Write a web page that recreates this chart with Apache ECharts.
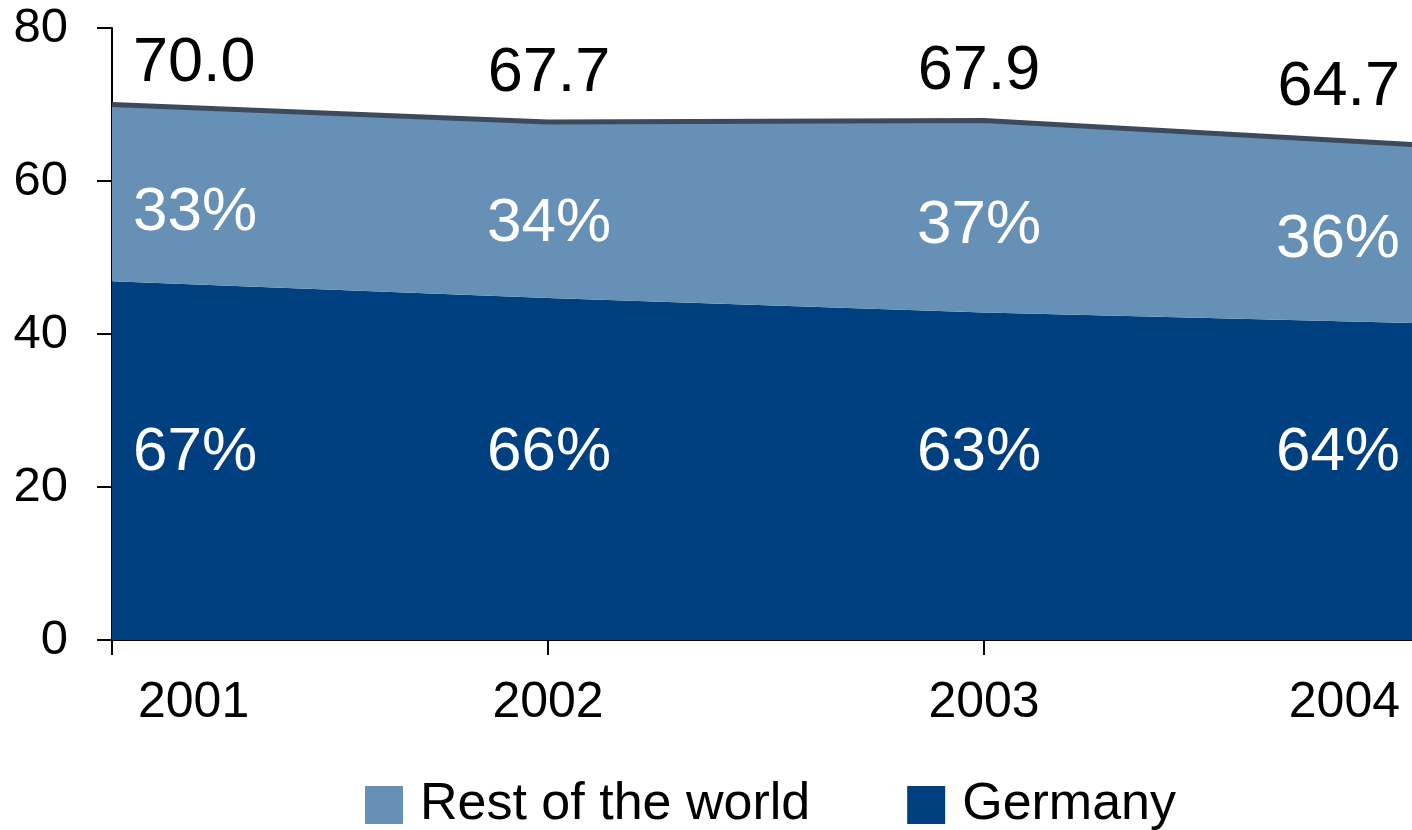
<!DOCTYPE html>
<html>
<head>
<meta charset="utf-8">
<title>Germany vs rest of the world</title>
<script src="https://cdn.jsdelivr.net/npm/echarts@6/dist/echarts.min.js"></script>
<style>
  html, body { margin: 0; padding: 0; background: #fff; }
  #chart { width: 1412px; height: 830px; }
</style>
</head>
<body>
<div id="chart"></div>
<script>
// data
const years = ["2001", "2002", "2003", "2004"];
const totals = [70.0, 67.7, 67.9, 64.7];
const germany = [46.9, 44.7, 42.8, 41.4];
const restOfWorld = [23.1, 23.0, 25.1, 23.3];
const germanyPct = [67, 66, 63, 64];
const restPct = [33, 34, 37, 36];
const yTicks = [0, 20, 40, 60, 80];

// label placement per year (pixels, relative to the data point)
const labelAlign = ["left", "center", "center", "right"];
const labelDx = [21, 1, -5, -20];
const totalDy = [-41, -48, -49, -57];
const restDy = [108, 102, 105, 95];
const germanyDy = [172, 155, 140, 130];

const FONT = "Liberation Sans, Arial, sans-serif";

function labelled(values, texts, dys, color, size) {
  return values.map(function (v, i) {
    return {
      value: v,
      label: {
        show: true,
        position: "inside",
        align: labelAlign[i],
        verticalAlign: "middle",
        offset: [labelDx[i], dys[i]],
        formatter: texts[i],
        color: color,
        fontSize: size,
        fontFamily: FONT
      }
    };
  });
}

const chart = echarts.init(document.getElementById("chart"));

const option = {
  animation: false,
  backgroundColor: "#ffffff",
  // plot runs a little past the right edge, as in the original
  grid: { left: 112, right: -8, top: 28, bottom: 190, containLabel: false, outerBoundsMode: "none" },
  legend: {
    data: ["Rest of the world", "Germany"],
    left: 360,
    top: 774,
    icon: "rect",
    itemWidth: 38,
    itemHeight: 38,
    itemGap: 97,
    textStyle: { fontSize: 52, fontFamily: FONT, color: "#000", padding: [0, 0, 0, 12] }
  },
  xAxis: {
    type: "category",
    boundaryGap: false,
    data: years.map(function (y, i) {
      const ts = { align: "center" };
      if (i === 0) { ts.align = "left"; ts.padding = [0, 0, 0, 26]; }
      if (i === years.length - 1) { ts.align = "right"; ts.padding = [0, 20, 0, 0]; }
      return { value: y, textStyle: ts };
    }),
    axisLine: { show: true, lineStyle: { color: "#000", width: 2 } },
    axisTick: { show: true, length: 15, lineStyle: { color: "#000", width: 2 } },
    axisLabel: { interval: 0, margin: 38, fontSize: 50, fontFamily: FONT, color: "#000" },
    splitLine: { show: false }
  },
  yAxis: {
    type: "value",
    min: yTicks[0],
    max: yTicks[yTicks.length - 1],
    interval: yTicks[1] - yTicks[0],
    axisLine: { show: true, lineStyle: { color: "#000", width: 2 } },
    axisTick: { show: true, length: 15, lineStyle: { color: "#000", width: 2 } },
    axisLabel: { margin: 44, fontSize: 49, fontFamily: FONT, color: "#000" },
    splitLine: { show: false }
  },
  series: [
    {
      name: "Germany",
      type: "line",
      stack: "total",
      data: labelled(germany, germanyPct.map(function (p) { return p + "%"; }), germanyDy, "#fff", 62),
      symbol: "circle",
      symbolSize: 0,
      showSymbol: true,
      itemStyle: { color: "#004080" },
      lineStyle: { width: 0 },
      areaStyle: { color: "#004080", opacity: 1 },
      z: 2
    },
    {
      name: "Rest of the world",
      type: "line",
      stack: "total",
      data: labelled(restOfWorld, restPct.map(function (p) { return p + "%"; }), restDy, "#fff", 62),
      symbol: "circle",
      symbolSize: 0,
      showSymbol: true,
      itemStyle: { color: "#6690B6" },
      lineStyle: { width: 0 },
      areaStyle: { color: "#6690B6", opacity: 1 },
      z: 2
    },
    {
      name: "Total",
      type: "line",
      data: labelled(totals, totals.map(function (t) { return t.toFixed(1); }), totalDy, "#000", 63),
      symbol: "circle",
      symbolSize: 0,
      showSymbol: true,
      itemStyle: { color: "#3D4A5C" },
      lineStyle: { color: "#3D4A5C", width: 5 },
      z: 3
    }
  ]
};

chart.setOption(option);
</script>
</body>
</html>
